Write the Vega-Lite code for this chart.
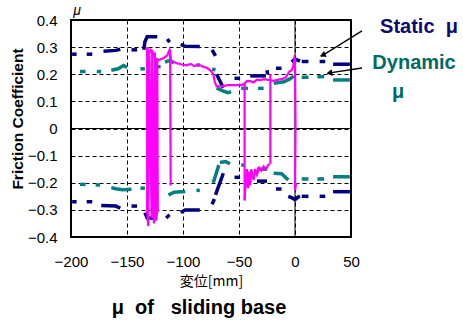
{
  "$schema": "https://vega.github.io/schema/vega-lite/v6.json",
  "width": 280,
  "height": 217,
  "autosize": "none",
  "padding": {"left": 71, "top": 20, "right": 112, "bottom": 88},
  "background": "white",
  "config": {
    "view": {"stroke": "black", "strokeWidth": 2},
    "font": "Liberation Sans",
    "axis": {"ticks": false, "domain": false, "grid": true, "gridColor": "black", "gridDash": [4, 3], "gridWidth": 1, "gridOpacity": 1, "labelColor": "black", "titleColor": "black", "labelFontSize": 15, "labelFont": "Liberation Sans", "titleFont": "Liberation Sans"}
  },
  "title": {"text": "μ\u00a0\u00a0of\u00a0\u00a0\u00a0sliding base", "orient": "bottom", "anchor": "middle", "fontSize": 20, "fontWeight": "bold", "color": "black", "offset": 10, "dx": -12, "font": "Liberation Sans"},
  "datasets": {
    "mag": [
      {"s": "m1", "o": 1, "x": -132, "y": 0.30}, {"s": "m1", "o": 2, "x": -130.5, "y": 0.27}, {"s": "m1", "o": 3, "x": -129, "y": 0.29}, {"s": "m1", "o": 4, "x": -127, "y": 0.28}, {"s": "m1", "o": 5, "x": -125, "y": 0.26}, {"s": "m1", "o": 6, "x": -123, "y": 0.25}, {"s": "m1", "o": 7, "x": -120, "y": 0.255}, {"s": "m1", "o": 8, "x": -117, "y": 0.26}, {"s": "m1", "o": 9, "x": -114, "y": 0.27}, {"s": "m1", "o": 10, "x": -112, "y": 0.29}, {"s": "m1", "o": 11, "x": -110.5, "y": 0.25}, {"s": "m1", "o": 12, "x": -108, "y": 0.245}, {"s": "m1", "o": 13, "x": -105, "y": 0.24}, {"s": "m1", "o": 14, "x": -100, "y": 0.235}, {"s": "m1", "o": 15, "x": -97, "y": 0.233}, {"s": "m1", "o": 16, "x": -93, "y": 0.238}, {"s": "m1", "o": 17, "x": -90, "y": 0.23}, {"s": "m1", "o": 18, "x": -86, "y": 0.235}, {"s": "m1", "o": 19, "x": -82, "y": 0.228}, {"s": "m1", "o": 20, "x": -78, "y": 0.222}, {"s": "m1", "o": 21, "x": -75, "y": 0.212}, {"s": "m1", "o": 22, "x": -73, "y": 0.2}, {"s": "m1", "o": 23, "x": -71.5, "y": 0.17}, {"s": "m1", "o": 24, "x": -70, "y": 0.155}, {"s": "m1", "o": 25, "x": -66, "y": 0.155}, {"s": "m1", "o": 26, "x": -60, "y": 0.16}, {"s": "m1", "o": 27, "x": -54, "y": 0.16}, {"s": "m1", "o": 28, "x": -48, "y": 0.16}, {"s": "m1", "o": 29, "x": -45, "y": 0.165}, {"s": "m1", "o": 30, "x": -43, "y": 0.175}, {"s": "m1", "o": 31, "x": -40, "y": 0.175}, {"s": "m1", "o": 32, "x": -37, "y": 0.17}, {"s": "m1", "o": 33, "x": -34, "y": 0.18}, {"s": "m1", "o": 34, "x": -31, "y": 0.178}, {"s": "m1", "o": 35, "x": -28, "y": 0.182}, {"s": "m1", "o": 36, "x": -25, "y": 0.18}, {"s": "m1", "o": 37, "x": -22, "y": 0.178}, {"s": "m1", "o": 38, "x": -19, "y": 0.176}, {"s": "m1", "o": 39, "x": -15, "y": 0.18}, {"s": "m1", "o": 40, "x": -11, "y": 0.183}, {"s": "m1", "o": 41, "x": -8, "y": 0.19}, {"s": "m1", "o": 42, "x": -5, "y": 0.21}, {"s": "m1", "o": 43, "x": -3, "y": 0.215}, {"s": "m1", "o": 44, "x": -1.5, "y": 0.23}, {"s": "m1", "o": 45, "x": -0.5, "y": 0.26}, {"s": "m1", "o": 46, "x": 0.5, "y": 0.25},
      {"s": "m2", "o": 1, "x": 0, "y": 0.26}, {"s": "m2", "o": 2, "x": 0.5, "y": 0.0}, {"s": "m2", "o": 3, "x": 0, "y": -0.23}, {"s": "m2", "o": 4, "x": 1, "y": -0.2},
      {"s": "m3", "o": 1, "x": -22, "y": 0.2}, {"s": "m3", "o": 2, "x": -22, "y": -0.13},
      {"s": "m4", "o": 1, "x": -45, "y": 0.17}, {"s": "m4", "o": 2, "x": -45, "y": -0.265},
      {"s": "m5", "o": 1, "x": -45, "y": -0.265}, {"s": "m5", "o": 2, "x": -44, "y": -0.2}, {"s": "m5", "o": 3, "x": -43, "y": -0.15}, {"s": "m5", "o": 4, "x": -42, "y": -0.22}, {"s": "m5", "o": 5, "x": -41, "y": -0.16}, {"s": "m5", "o": 6, "x": -40, "y": -0.21}, {"s": "m5", "o": 7, "x": -39, "y": -0.15}, {"s": "m5", "o": 8, "x": -37, "y": -0.19}, {"s": "m5", "o": 9, "x": -35.5, "y": -0.15}, {"s": "m5", "o": 10, "x": -34, "y": -0.17}, {"s": "m5", "o": 11, "x": -32, "y": -0.145}, {"s": "m5", "o": 12, "x": -30, "y": -0.155}, {"s": "m5", "o": 13, "x": -28, "y": -0.14}, {"s": "m5", "o": 14, "x": -26, "y": -0.15}, {"s": "m5", "o": 15, "x": -24, "y": -0.135}, {"s": "m5", "o": 16, "x": -22.5, "y": -0.13},
      {"s": "m6", "o": 1, "x": -111.5, "y": 0.29}, {"s": "m6", "o": 2, "x": -111, "y": -0.21},
      {"s": "m7", "o": 1, "x": -132, "y": 0.30}, {"s": "m7", "o": 2, "x": -132, "y": -0.3}, {"s": "m7", "o": 3, "x": -131, "y": -0.36}, {"s": "m7", "o": 4, "x": -130, "y": 0.27}, {"s": "m7", "o": 5, "x": -128, "y": -0.33}, {"s": "m7", "o": 6, "x": -127.5, "y": 0.29}, {"s": "m7", "o": 7, "x": -126, "y": -0.35}, {"s": "m7", "o": 8, "x": -125, "y": 0.28}, {"s": "m7", "o": 9, "x": -124, "y": -0.32}, {"s": "m7", "o": 10, "x": -123, "y": 0.26}, {"s": "m7", "o": 11, "x": -122.5, "y": -0.3}, {"s": "m7", "o": 12, "x": -124.5, "y": -0.34}, {"s": "m7", "o": 13, "x": -128, "y": -0.2}
    ],
    "stat": [
      {"s": "s1", "x": -199, "y": 0.274}, {"s": "s1", "x": -195, "y": 0.274},
      {"s": "s2", "x": -186, "y": 0.274}, {"s": "s2", "x": -181, "y": 0.274},
      {"s": "s3", "x": -171, "y": 0.285}, {"s": "s3", "x": -160, "y": 0.288}, {"s": "s3", "x": -156, "y": 0.292},
      {"s": "s4", "x": -146, "y": 0.29}, {"s": "s4", "x": -141, "y": 0.29},
      {"s": "s5", "x": -135, "y": 0.29}, {"s": "s5", "x": -134, "y": 0.32}, {"s": "s5", "x": -132, "y": 0.338}, {"s": "s5", "x": -123, "y": 0.338},
      {"s": "s6", "x": -114, "y": 0.33}, {"s": "s6", "x": -112, "y": 0.318},
      {"s": "s7", "x": -102, "y": 0.31}, {"s": "s7", "x": -98, "y": 0.303}, {"s": "s7", "x": -85, "y": 0.302},
      {"s": "s8", "x": -74, "y": 0.29}, {"s": "s8", "x": -71, "y": 0.268},
      {"s": "s9", "x": -70, "y": 0.2}, {"s": "s9", "x": -64, "y": 0.15},
      {"s": "s10", "x": -54, "y": 0.185}, {"s": "s10", "x": -49, "y": 0.185},
      {"s": "s11", "x": -40, "y": 0.194}, {"s": "s11", "x": -26, "y": 0.194},
      {"s": "s12", "x": -25, "y": 0.215}, {"s": "s12", "x": -24.5, "y": 0.2},
      {"s": "s13", "x": -17, "y": 0.222}, {"s": "s13", "x": -12, "y": 0.222},
      {"s": "s14", "x": -3, "y": 0.245}, {"s": "s14", "x": 0, "y": 0.256}, {"s": "s14", "x": 4.5, "y": 0.248},
      {"s": "s15", "x": 6, "y": 0.247}, {"s": "s15", "x": 12, "y": 0.247},
      {"s": "s16", "x": 22, "y": 0.247}, {"s": "s16", "x": 27, "y": 0.247},
      {"s": "s17", "x": 34, "y": 0.237}, {"s": "s17", "x": 49, "y": 0.237},
      {"s": "t1", "x": -199, "y": -0.27}, {"s": "t1", "x": -195, "y": -0.27},
      {"s": "t2", "x": -186, "y": -0.27}, {"s": "t2", "x": -181, "y": -0.27},
      {"s": "t3", "x": -173, "y": -0.284}, {"s": "t3", "x": -160, "y": -0.286}, {"s": "t3", "x": -156, "y": -0.294},
      {"s": "t4", "x": -146, "y": -0.286}, {"s": "t4", "x": -141, "y": -0.286},
      {"s": "t5", "x": -134, "y": -0.31}, {"s": "t5", "x": -132, "y": -0.33}, {"s": "t5", "x": -123, "y": -0.33},
      {"s": "t6", "x": -115, "y": -0.33}, {"s": "t6", "x": -112, "y": -0.318},
      {"s": "t7", "x": -102, "y": -0.31}, {"s": "t7", "x": -98, "y": -0.3}, {"s": "t7", "x": -85, "y": -0.3},
      {"s": "t8", "x": -74, "y": -0.28}, {"s": "t8", "x": -72, "y": -0.26},
      {"s": "t9", "x": -71, "y": -0.245}, {"s": "t9", "x": -64, "y": -0.165},
      {"s": "t10", "x": -54, "y": -0.18}, {"s": "t10", "x": -49, "y": -0.18},
      {"s": "t11", "x": -34, "y": -0.194}, {"s": "t11", "x": -25, "y": -0.194},
      {"s": "t12", "x": -17, "y": -0.223}, {"s": "t12", "x": -12, "y": -0.223},
      {"s": "t13", "x": -6, "y": -0.25}, {"s": "t13", "x": -3, "y": -0.255}, {"s": "t13", "x": 0, "y": -0.262}, {"s": "t13", "x": 3, "y": -0.252}, {"s": "t13", "x": 4.5, "y": -0.25},
      {"s": "t14", "x": 6, "y": -0.25}, {"s": "t14", "x": 12, "y": -0.25},
      {"s": "t15", "x": 22, "y": -0.25}, {"s": "t15", "x": 27, "y": -0.25},
      {"s": "t16", "x": 34, "y": -0.233}, {"s": "t16", "x": 49, "y": -0.233}
    ],
    "dyn": [
      {"s": "d1", "x": -192, "y": 0.21}, {"s": "d1", "x": -187, "y": 0.21},
      {"s": "d2", "x": -177, "y": 0.21}, {"s": "d2", "x": -173, "y": 0.21},
      {"s": "d3", "x": -164, "y": 0.215}, {"s": "d3", "x": -158, "y": 0.22}, {"s": "d3", "x": -153, "y": 0.232}, {"s": "d3", "x": -150, "y": 0.225},
      {"s": "d4", "x": -138, "y": 0.22}, {"s": "d4", "x": -134, "y": 0.22},
      {"s": "d5", "x": -125, "y": 0.228}, {"s": "d5", "x": -120, "y": 0.228},
      {"s": "d6", "x": -116, "y": 0.245}, {"s": "d6", "x": -112, "y": 0.25}, {"s": "d6", "x": -108, "y": 0.242},
      {"s": "d7", "x": -88, "y": 0.234}, {"s": "d7", "x": -85, "y": 0.234},
      {"s": "d8", "x": -74, "y": 0.22}, {"s": "d8", "x": -71, "y": 0.215},
      {"s": "d9", "x": -70, "y": 0.15}, {"s": "d9", "x": -65, "y": 0.14}, {"s": "d9", "x": -60, "y": 0.132}, {"s": "d9", "x": -57, "y": 0.135},
      {"s": "d10", "x": -48, "y": 0.148}, {"s": "d10", "x": -42, "y": 0.148},
      {"s": "d11", "x": -33, "y": 0.148}, {"s": "d11", "x": -28, "y": 0.148},
      {"s": "d12", "x": -19, "y": 0.167}, {"s": "d12", "x": -10, "y": 0.172}, {"s": "d12", "x": -5, "y": 0.182}, {"s": "d12", "x": -1, "y": 0.193},
      {"s": "d13", "x": 6, "y": 0.189}, {"s": "d13", "x": 12, "y": 0.189},
      {"s": "d14", "x": 20, "y": 0.191}, {"s": "d14", "x": 26, "y": 0.191},
      {"s": "d15", "x": 34, "y": 0.179}, {"s": "d15", "x": 49, "y": 0.179},
      {"s": "e1", "x": -192, "y": -0.206}, {"s": "e1", "x": -187, "y": -0.206},
      {"s": "e2", "x": -178, "y": -0.208}, {"s": "e2", "x": -174, "y": -0.208},
      {"s": "e3", "x": -164, "y": -0.218}, {"s": "e3", "x": -160, "y": -0.222}, {"s": "e3", "x": -154, "y": -0.226}, {"s": "e3", "x": -146, "y": -0.224},
      {"s": "e4", "x": -138, "y": -0.22}, {"s": "e4", "x": -134, "y": -0.22},
      {"s": "e5", "x": -113, "y": -0.245}, {"s": "e5", "x": -108, "y": -0.235}, {"s": "e5", "x": -98, "y": -0.232},
      {"s": "e6", "x": -88, "y": -0.228}, {"s": "e6", "x": -85, "y": -0.228},
      {"s": "e7", "x": -73, "y": -0.2}, {"s": "e7", "x": -68, "y": -0.135},
      {"s": "e8", "x": -67, "y": -0.125}, {"s": "e8", "x": -62, "y": -0.122}, {"s": "e8", "x": -58, "y": -0.13},
      {"s": "e9", "x": -48, "y": -0.135}, {"s": "e9", "x": -45, "y": -0.135},
      {"s": "e10", "x": -34, "y": -0.15}, {"s": "e10", "x": -25, "y": -0.15},
      {"s": "e11", "x": -19, "y": -0.165}, {"s": "e11", "x": -12, "y": -0.167}, {"s": "e11", "x": -6, "y": -0.19},
      {"s": "e12", "x": 6, "y": -0.186}, {"s": "e12", "x": 12, "y": -0.186},
      {"s": "e13", "x": 20, "y": -0.186}, {"s": "e13", "x": 26, "y": -0.186},
      {"s": "e14", "x": 34, "y": -0.178}, {"s": "e14", "x": 49, "y": -0.178}
    ],
    "zero": [
      {"x": -200, "x2": 50, "y": 0, "y2": 0},
      {"x": 0, "x2": 0, "y": -0.4, "y2": 0.4}
    ],
    "arrows": [
      {"x": 59.8, "y": 0.36, "x2": 23.2, "y2": 0.266},
      {"x": 59.8, "y": 0.223, "x2": 29.5, "y2": 0.204}
    ],
    "heads": [
      {"x": 25.5, "y": 0.272, "a": 248},
      {"x": 31.5, "y": 0.205, "a": 263}
    ]
  },
  "encoding": {
    "x": {"field": "x", "type": "quantitative", "scale": {"domain": [-200, 50], "nice": false, "zero": false},
      "axis": {"values": [-200, -150, -100, -50, 0, 50], "labelPadding": 17, "title": "変位[mm]", "titleFont": "Noto Sans CJK JP", "titleFontSize": 14, "titleFontWeight": "normal", "titlePadding": 5, "labelFlush": false}},
    "y": {"field": "y", "type": "quantitative", "scale": {"domain": [-0.4, 0.4], "nice": false, "zero": false},
      "axis": {"values": [-0.4, -0.3, -0.2, -0.1, 0, 0.1, 0.2, 0.3, 0.4], "format": ".1~f", "labelPadding": 14, "title": "Friction Coefficient", "titleFontSize": 15.5, "titleFontWeight": "bold", "titleX": -46, "titleY": 98.5}}
  },
  "layer": [
    {"data": {"name": "zero"}, "mark": {"type": "rule", "color": "black", "strokeWidth": 1}, "encoding": {"x2": {"field": "x2"}, "y2": {"field": "y2"}}},
    {"data": {"name": "dyn"}, "mark": {"type": "line", "color": "#008080", "strokeWidth": 3.5}, "encoding": {"detail": {"field": "s"}}},
    {"data": {"name": "stat"}, "mark": {"type": "line", "color": "#000080", "strokeWidth": 3.5}, "encoding": {"detail": {"field": "s"}}},
    {"data": {"name": "mag"}, "mark": {"type": "line", "color": "#FF00FF", "strokeWidth": 2.2}, "encoding": {"detail": {"field": "s"}, "order": {"field": "o"}}},
    {"data": {"name": "arrows"}, "mark": {"type": "rule", "color": "black", "strokeWidth": 1.3, "clip": false}, "encoding": {"x2": {"field": "x2"}, "y2": {"field": "y2"}}},
    {"data": {"name": "heads"}, "mark": {"type": "point", "shape": "triangle", "filled": true, "color": "black", "size": 45, "opacity": 1, "clip": false}, "encoding": {"angle": {"field": "a", "type": "quantitative", "scale": null}}},
    {"data": {"values": [{"x": 110.7, "y": 0.375, "t": "Static\u00a0\u00a0μ"}]}, "mark": {"type": "text", "color": "#0c0c6c", "fontSize": 20, "fontWeight": "bold", "clip": false, "font": "Liberation Sans"}, "encoding": {"text": {"field": "t"}}},
    {"data": {"values": [{"x": 106.3, "y": 0.242, "t": "Dynamic"}, {"x": 92, "y": 0.134, "t": "μ"}]}, "mark": {"type": "text", "color": "#006b66", "fontSize": 20, "fontWeight": "bold", "clip": false, "font": "Liberation Sans"}, "encoding": {"text": {"field": "t"}}},
    {"data": {"values": [{"x": -194.5, "y": 0.432, "t": "μ"}]}, "mark": {"type": "text", "color": "black", "fontSize": 14, "fontStyle": "italic", "clip": false, "font": "Liberation Sans"}, "encoding": {"text": {"field": "t"}}}
  ]
}
